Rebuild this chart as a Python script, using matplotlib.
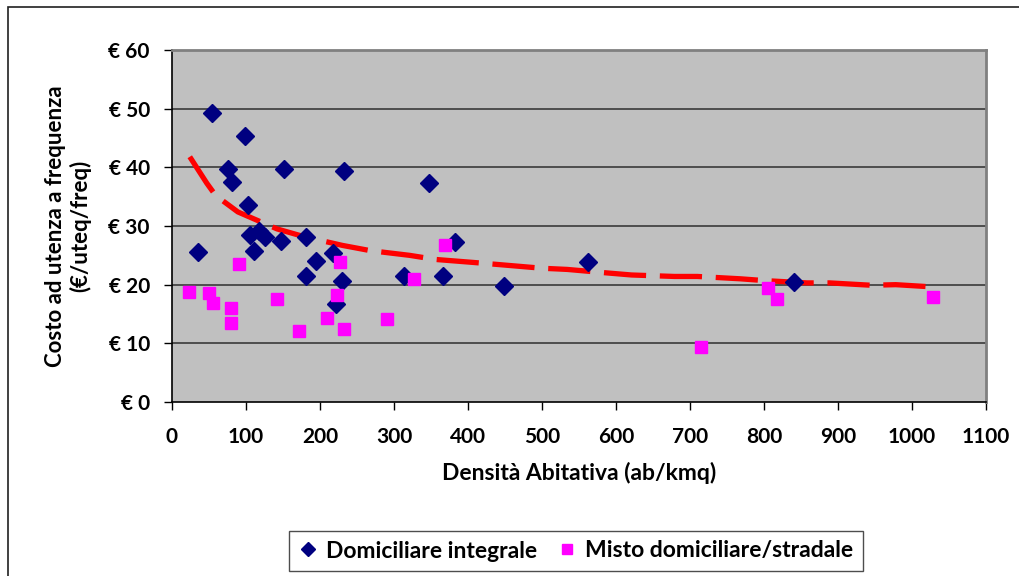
import numpy as np
import matplotlib.pyplot as plt
from matplotlib.patches import Rectangle

# --- dati ---
# Domiciliare integrale (densità ab/kmq, costo €/uteq/freq)
dom_x = [54, 98, 76, 81, 152, 233, 347, 103, 35, 106, 117, 125, 111, 147, 181,
         195, 217, 181, 230, 222, 314, 366, 382, 448, 562, 840]
dom_y = [49.3, 45.3, 39.8, 37.5, 39.8, 39.4, 37.4, 33.6, 25.5, 28.5, 29.1, 28.2,
         25.8, 27.5, 28.2, 24.1, 25.4, 21.4, 20.7, 16.7, 21.5, 21.4, 27.3, 19.8,
         23.9, 20.5]

# Misto domiciliare/stradale
misto_x = [23, 50, 55, 80, 80, 91, 142, 172, 210, 223, 227, 232, 291, 327, 369,
           715, 806, 817, 1028]
misto_y = [18.8, 18.6, 16.9, 16.1, 13.5, 23.6, 17.5, 12.1, 14.4, 18.2, 23.9,
           12.5, 14.1, 20.9, 26.7, 9.4, 19.5, 17.6, 17.9]

# curva di tendenza (rossa tratteggiata)
trend_x = [24, 47, 59, 89, 142, 178, 230, 268, 321, 356, 411, 444, 500, 534,
           588, 621, 679, 710, 768, 800, 858, 889, 945, 978, 1030]
trend_y = [41.8, 37.3, 35.2, 32.4, 29.5, 28.2, 26.7, 25.8, 25.0, 24.3, 23.75,
           23.4, 22.8, 22.6, 22.0, 21.65, 21.4, 21.4, 21.0, 20.7, 20.3, 20.3,
           19.9, 20.0, 19.6]

x_ticks = list(range(0, 1101, 100))
y_ticks = list(range(0, 61, 10))

plt.rcParams['font.family'] = ['Lato', 'DejaVu Sans']
plt.rcParams['font.weight'] = 'bold'

fig = plt.figure(figsize=(10.19, 5.76), dpi=100)
W, H = 1019, 576

# cornice esterna
fig.patches.append(Rectangle((8 / W, -0.05), 1.2, 1 - 7 / H + 0.05,
                             transform=fig.transFigure, fill=False,
                             edgecolor='#202020', linewidth=1.2))

ax = fig.add_axes([172 / W, 1 - 402 / H, 814 / W, 352 / H])
ax.set_facecolor('#C0C0C0')

for yv in y_ticks[1:-1]:
    ax.axhline(yv, color='#3a3a3a', linewidth=1.2, zorder=1)

ax.plot(trend_x, trend_y, color='#FF0000', linewidth=3.8,
        dashes=(8, 2.6), dash_capstyle='butt', zorder=2)

ax.plot(dom_x, dom_y, linestyle='none', marker='D', markersize=9,
        color='#000080', label='Domiciliare integrale', zorder=3)
ax.plot(misto_x, misto_y, linestyle='none', marker='s', markersize=8.3,
        color='#FF00FF', label='Misto domiciliare/stradale', zorder=3)

ax.set_xlim(0, 1100)
ax.set_ylim(0, 60)
ax.set_xticks(x_ticks)
ax.set_yticks(y_ticks)
ax.set_yticklabels([f'€ {v}' for v in y_ticks])
ax.tick_params(axis='both', direction='out', length=6, width=1,
               labelsize=15, colors='black')
ax.tick_params(axis='x', pad=12)
ax.tick_params(axis='y', pad=10)

ax.spines['left'].set_color('black')
ax.spines['bottom'].set_color('black')
ax.spines['left'].set_linewidth(1.2)
ax.spines['bottom'].set_linewidth(1.2)
ax.spines['top'].set_color('#808080')
ax.spines['right'].set_color('#808080')
ax.spines['top'].set_linewidth(2)
ax.spines['right'].set_linewidth(2)

ax.set_xlabel('Densità Abitativa (ab/kmq)', fontsize=16.5, fontweight='bold',
              labelpad=11)
ax.set_ylabel('Costo ad utenza a frequenza\n(€/uteq/freq)', fontsize=16,
              fontweight='bold', labelpad=12, linespacing=1.2)

leg = fig.legend(loc='center', bbox_to_anchor=(576 / W, 1 - 551 / H),
                 ncol=2, fontsize=16.5, frameon=True, fancybox=False,
                 handlelength=0.8, handletextpad=0.4, columnspacing=0.9,
                 borderpad=0.4, markerscale=0.8)
leg.get_frame().set_edgecolor('#202020')
leg.get_frame().set_linewidth(1.0)

fig.savefig('out.png', dpi=100, facecolor='white')
